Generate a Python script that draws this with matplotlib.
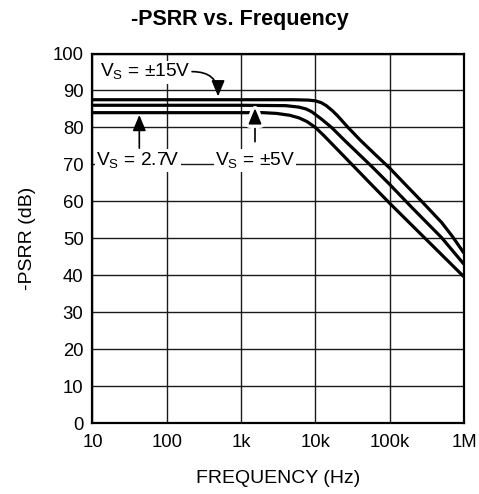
import matplotlib
matplotlib.use("Agg")
import matplotlib.pyplot as plt
import matplotlib.patheffects as pe

plt.rcParams['font.family'] = ['Liberation Sans', 'DejaVu Sans']
plt.rcParams['mathtext.fontset'] = 'custom'
plt.rcParams['mathtext.rm'] = 'Liberation Sans'

# ---- data ----
freq_15v = [10, 100, 1e3, 5e3, 8e3, 10e3, 12e3, 14e3, 17e3, 20e3, 27.5e3, 40e3,
            60e3, 100e3, 150e3, 270e3, 500e3, 700e3, 1e6]
psrr_15v = [87.5, 87.5, 87.5, 87.5, 87.4, 87.2, 86.7, 85.9, 84.5, 83.1, 80, 76.6,
            73.2, 69.0, 65.3, 60, 54.3, 50.5, 46]

freq_5v = [10, 100, 1e3, 4e3, 6e3, 7.5e3, 9e3, 10e3, 12e3, 16.5e3, 25e3, 57e3,
           100e3, 200e3, 500e3, 1e6]
psrr_5v = [86, 86, 86, 85.9, 85.5, 85, 84.2, 83.5, 82.3, 80, 76.4, 69.5,
           64.6, 58.3, 50.2, 43]

freq_27v = [10, 100, 1e3, 2e3, 3e3, 4.5e3, 6e3, 7.7e3, 10e3, 13e3, 31e3, 54e3,
            100e3, 300e3, 1e6]
psrr_27v = [84, 84, 84, 84, 83.8, 83.3, 82.6, 81.6, 80, 77.8, 70, 65,
            59.5, 50, 39.6]

xticks = [10, 100, 1e3, 1e4, 1e5, 1e6]
xticklabels = ['10', '100', '1k', '10k', '100k', '1M']
yticks = list(range(0, 101, 10))

# ---- figure ----
fig = plt.figure(figsize=(4.79, 4.94), dpi=100)
ax = fig.add_axes([0.1931, 0.1431, 0.7756, 0.7486])

for f, p in [(freq_15v, psrr_15v), (freq_5v, psrr_5v), (freq_27v, psrr_27v)]:
    ax.plot(f, p, color='black', lw=2.3, solid_capstyle='butt',
            solid_joinstyle='round', zorder=2)

ax.set_xscale('log')
ax.set_xlim(10, 1e6)
ax.set_ylim(0, 100)
ax.set_xticks(xticks)
ax.set_xticklabels(xticklabels)
ax.minorticks_off()
ax.set_yticks(yticks)
ax.grid(True, color='#1a1a1a', lw=1.0)
ax.set_axisbelow(True)
ax.tick_params(axis='both', length=0, labelsize=13.3)
ax.tick_params(axis='x', pad=7.5)
ax.tick_params(axis='y', pad=6.5)
for s in ax.spines.values():
    s.set_linewidth(1.6)
    s.set_color('black')

ax.set_xlabel('FREQUENCY (Hz)', fontsize=14, labelpad=14)
ax.set_ylabel('-PSRR (dB)', fontsize=14, labelpad=12)
fig.text(0.5, 1 - 20 / 494, '-PSRR vs. Frequency', ha='center', va='center',
         fontsize=15.5, fontweight='bold')

# ---- annotations ----
bbox = dict(facecolor='white', edgecolor='none', pad=1.0)
tfs = 13.8
ax.text(0.020, 0.936, r'V$_{\mathregular{S}}$ = ±15V', transform=ax.transAxes,
        fontsize=tfs, ha='left', va='baseline', bbox=bbox, zorder=4)
ax.text(0.0105, 0.6966, r'V$_{\mathregular{S}}$ = 2.7V', transform=ax.transAxes,
        fontsize=tfs, ha='left', va='baseline', bbox=bbox, zorder=4)
ax.text(0.3297, 0.6966, r'V$_{\mathregular{S}}$ = ±5V', transform=ax.transAxes,
        fontsize=tfs, ha='left', va='baseline', bbox=bbox, zorder=4)

astyle = '-|>,head_length=0.6,head_width=0.25'
ax.annotate('', xy=(0.338, 0.884), xytext=(0.268, 0.951),
            xycoords='axes fraction', textcoords='axes fraction',
            arrowprops=dict(arrowstyle=astyle, mutation_scale=16, color='black',
                            lw=1.2, shrinkA=0, shrinkB=0,
                            connectionstyle='angle3,angleA=0,angleB=90'),
            zorder=5)
ax.annotate('', xy=(0.126, 0.834), xytext=(0.126, 0.744),
            xycoords='axes fraction', textcoords='axes fraction',
            arrowprops=dict(arrowstyle=astyle, mutation_scale=16, color='black',
                            lw=1.2, shrinkA=0, shrinkB=0),
            zorder=5)
ax.annotate('', xy=(0.4374, 0.852), xytext=(0.4374, 0.7615),
            xycoords='axes fraction', textcoords='axes fraction',
            arrowprops=dict(arrowstyle=astyle, mutation_scale=16, color='black',
                            lw=1.2, shrinkA=0, shrinkB=0,
                            path_effects=[pe.Stroke(linewidth=6, foreground='white'),
                                          pe.Normal()]),
            zorder=5)

fig.savefig('out.png', dpi=100)
